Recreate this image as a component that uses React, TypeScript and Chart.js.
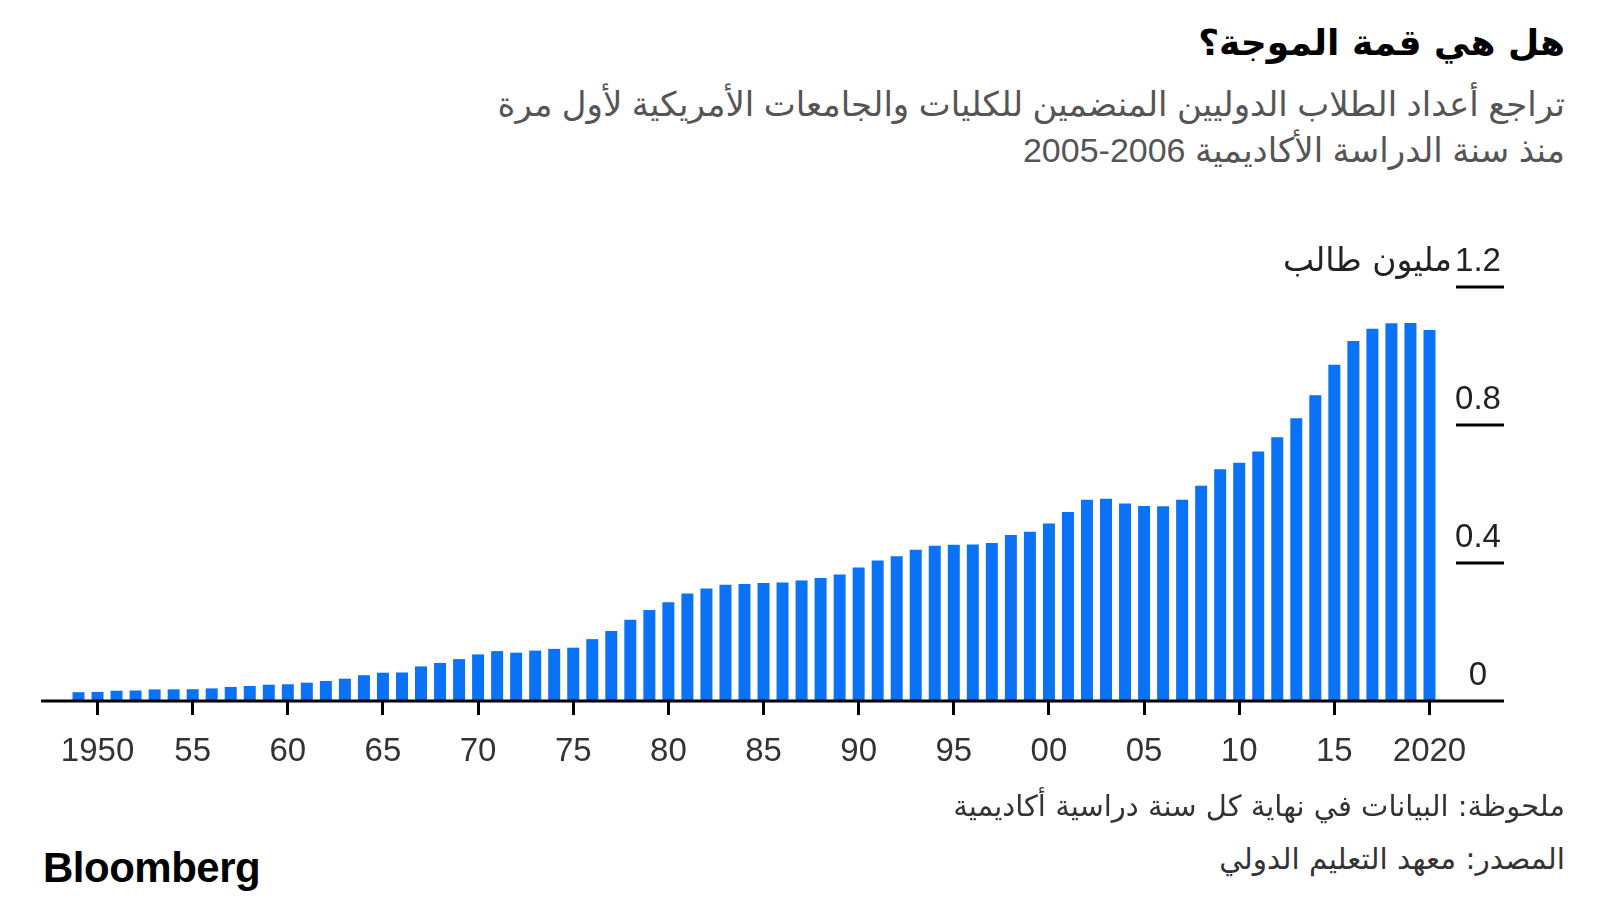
import React, { useEffect, useRef } from "react";
import { Chart, registerables } from "chart.js";

Chart.register(...registerables);

// Academic years, labelled by their ending year (1948/49 -> 1949 ... 2019/20 -> 2020)
const years = [
  1949, 1950, 1951, 1952, 1953, 1954, 1955, 1956, 1957, 1958,
  1959, 1960, 1961, 1962, 1963, 1964, 1965, 1966, 1967, 1968,
  1969, 1970, 1971, 1972, 1973, 1974, 1975, 1976, 1977, 1978,
  1979, 1980, 1981, 1982, 1983, 1984, 1985, 1986, 1987, 1988,
  1989, 1990, 1991, 1992, 1993, 1994, 1995, 1996, 1997, 1998,
  1999, 2000, 2001, 2002, 2003, 2004, 2005, 2006, 2007, 2008,
  2009, 2010, 2011, 2012, 2013, 2014, 2015, 2016, 2017, 2018,
  2019, 2020,
];

// International students, millions
const students = [
  0.0255, 0.0264, 0.0298, 0.0305, 0.0337, 0.0338, 0.0342, 0.0365, 0.0407, 0.0434,
  0.0472, 0.0485, 0.0531, 0.0581, 0.0647, 0.0748, 0.082, 0.0827, 0.1003, 0.1103,
  0.1214, 0.135, 0.1447, 0.1401, 0.1461, 0.1511, 0.1546, 0.1793, 0.2031, 0.2355,
  0.2639, 0.2863, 0.3119, 0.3263, 0.337, 0.3389, 0.3421, 0.3438, 0.3496, 0.3562,
  0.3664, 0.3869, 0.4075, 0.4196, 0.4386, 0.4497, 0.4527, 0.4538, 0.458, 0.4813,
  0.4909, 0.5147, 0.5479, 0.583, 0.5863, 0.5725, 0.565, 0.5648, 0.583, 0.6238,
  0.6716, 0.6909, 0.7233, 0.7645, 0.8196, 0.8861, 0.9749, 1.0438, 1.0788, 1.0948,
  1.0953, 1.0755,
];

const xTickYears = [1950, 1955, 1960, 1965, 1970, 1975, 1980, 1985, 1990, 1995, 2000, 2005, 2010, 2015, 2020];
const xTickLabels = ["1950", "55", "60", "65", "70", "75", "80", "85", "90", "95", "00", "05", "10", "15", "2020"];

const yTickValues = [0, 0.4, 0.8, 1.2];
const yTickLabels = ["0", "0.4", "0.8", "1.2"];

const unitLabel = "مليون طالب";
const title = "هل هي قمة الموجة؟";
const subtitle1 = "تراجع أعداد الطلاب الدوليين المنضمين للكليات والجامعات الأمريكية لأول مرة";
const subtitle2 = "منذ سنة الدراسة الأكاديمية ";
const subtitle2Years = "2005-2006";
const note = "ملحوظة: البيانات في نهاية كل سنة دراسية أكاديمية";
const source = "المصدر: معهد التعليم الدولي";

const BAR_COLOR = "#0a72f5";
const NUM_FONT = "'Liberation Sans', Arial, sans-serif";
const AR_FONT = "'DejaVu Sans', 'Liberation Sans', sans-serif";
const SUB_FONT = "'Liberation Sans', 'DejaVu Sans', sans-serif";

function labelForIndex(i: number): string {
  const y = years[i];
  const k = xTickYears.indexOf(y);
  return k >= 0 ? xTickLabels[k] : "";
}

const overlayPlugin = {
  id: "bbgOverlay",
  afterDraw(chart: any) {
    const ctx = chart.ctx as CanvasRenderingContext2D;
    const yScale = chart.scales.y;
    ctx.save();
    // baseline
    const y0 = yScale.getPixelForValue(0);
    ctx.strokeStyle = "#000";
    ctx.lineWidth = 3;
    ctx.beginPath();
    ctx.moveTo(41, y0);
    ctx.lineTo(1504, y0);
    ctx.stroke();
    // y labels with short lines
    ctx.font = `33px ${NUM_FONT}`;
    ctx.fillStyle = "#222";
    ctx.textAlign = "center";
    ctx.textBaseline = "alphabetic";
    yTickValues.forEach((v, i) => {
      const py = yScale.getPixelForValue(v);
      if (v !== 0) {
        ctx.beginPath();
        ctx.moveTo(1456, py);
        ctx.lineTo(1504, py);
        ctx.stroke();
      }
      ctx.fillText(yTickLabels[i], 1478, py - 16);
    });
    // unit label
    const pTop = yScale.getPixelForValue(yTickValues[yTickValues.length - 1]);
    ctx.font = `33px ${AR_FONT}`;
    ctx.textAlign = "right";
    ctx.direction = "rtl";
    ctx.fillText(unitLabel, 1452, pTop - 16);
    ctx.restore();
  },
};

export default function App() {
  const ref = useRef<HTMLCanvasElement | null>(null);

  useEffect(() => {
    if (!ref.current) return;
    const tickColor = (c: any) => (labelForIndex(c.index) ? "#000" : "rgba(0,0,0,0)");
    const chart = new Chart(ref.current, {
      type: "bar",
      data: {
        labels: years.map(String),
        datasets: [
          {
            data: students,
            backgroundColor: BAR_COLOR,
            borderWidth: 0,
            barPercentage: 0.63,
            categoryPercentage: 1.0,
          },
        ],
      },
      options: {
        responsive: false,
        maintainAspectRatio: false,
        animation: false,
        devicePixelRatio: 1,
        layout: { padding: { left: 69, right: 161, top: 67, bottom: 0 } },
        plugins: {
          legend: { display: false },
          tooltip: { enabled: false },
          title: { display: false },
        },
        scales: {
          x: {
            type: "category",
            offset: true,
            grid: {
              display: true,
              drawOnChartArea: false,
              drawTicks: true,
              tickLength: 14,
              offset: false,
              color: tickColor,
              tickColor: tickColor,
              lineWidth: 3,
              tickWidth: 3,
            },
            border: { display: false },
            ticks: {
              autoSkip: false,
              maxRotation: 0,
              minRotation: 0,
              padding: 17,
              color: "#333",
              font: { family: NUM_FONT, size: 33 },
              callback: (_v: any, i: number) => labelForIndex(i),
            },
            afterFit: (s: any) => {
              s.height = 99;
            },
          },
          y: {
            display: false,
            min: 0,
            max: 1.2,
          },
        },
      } as any,
      plugins: [overlayPlugin],
    });
    return () => chart.destroy();
  }, []);

  const wrap: React.CSSProperties = {
    position: "fixed",
    top: 0,
    left: 0,
    width: 1600,
    height: 900,
    background: "#fff",
    overflow: "hidden",
  };
  const rtl: React.CSSProperties = {
    position: "absolute",
    right: 35,
    direction: "rtl",
    textAlign: "right",
    whiteSpace: "nowrap",
    fontFamily: AR_FONT,
  };

  return (
    <div style={wrap}>
      <div style={{ ...rtl, top: 18, fontSize: 36, lineHeight: "50px", fontWeight: 700, color: "#000" }}>{title}</div>
      <div style={{ ...rtl, top: 81, fontSize: 34, lineHeight: "46px", color: "#555", fontFamily: SUB_FONT }}>
        <div>{subtitle1}</div>
        <div>
          {subtitle2}
          <span dir="ltr" style={{ unicodeBidi: "isolate" }}>{subtitle2Years}</span>
        </div>
      </div>
      <canvas
        ref={ref}
        width={1600}
        height={580}
        style={{ position: "absolute", top: 220, left: 0, width: 1600, height: 580 }}
      />
      <div style={{ ...rtl, top: 788, fontSize: 29, lineHeight: "36px", color: "#333" }}>{note}</div>
      <div style={{ ...rtl, top: 841, fontSize: 29.5, lineHeight: "36px", color: "#333" }}>{source}</div>
      <div
        style={{
          position: "absolute",
          left: 43,
          top: 843,
          fontSize: 42,
          lineHeight: "50px",
          fontWeight: 700,
          letterSpacing: -0.5,
          fontFamily: NUM_FONT,
          color: "#000",
        }}
      >
        Bloomberg
      </div>
    </div>
  );
}
